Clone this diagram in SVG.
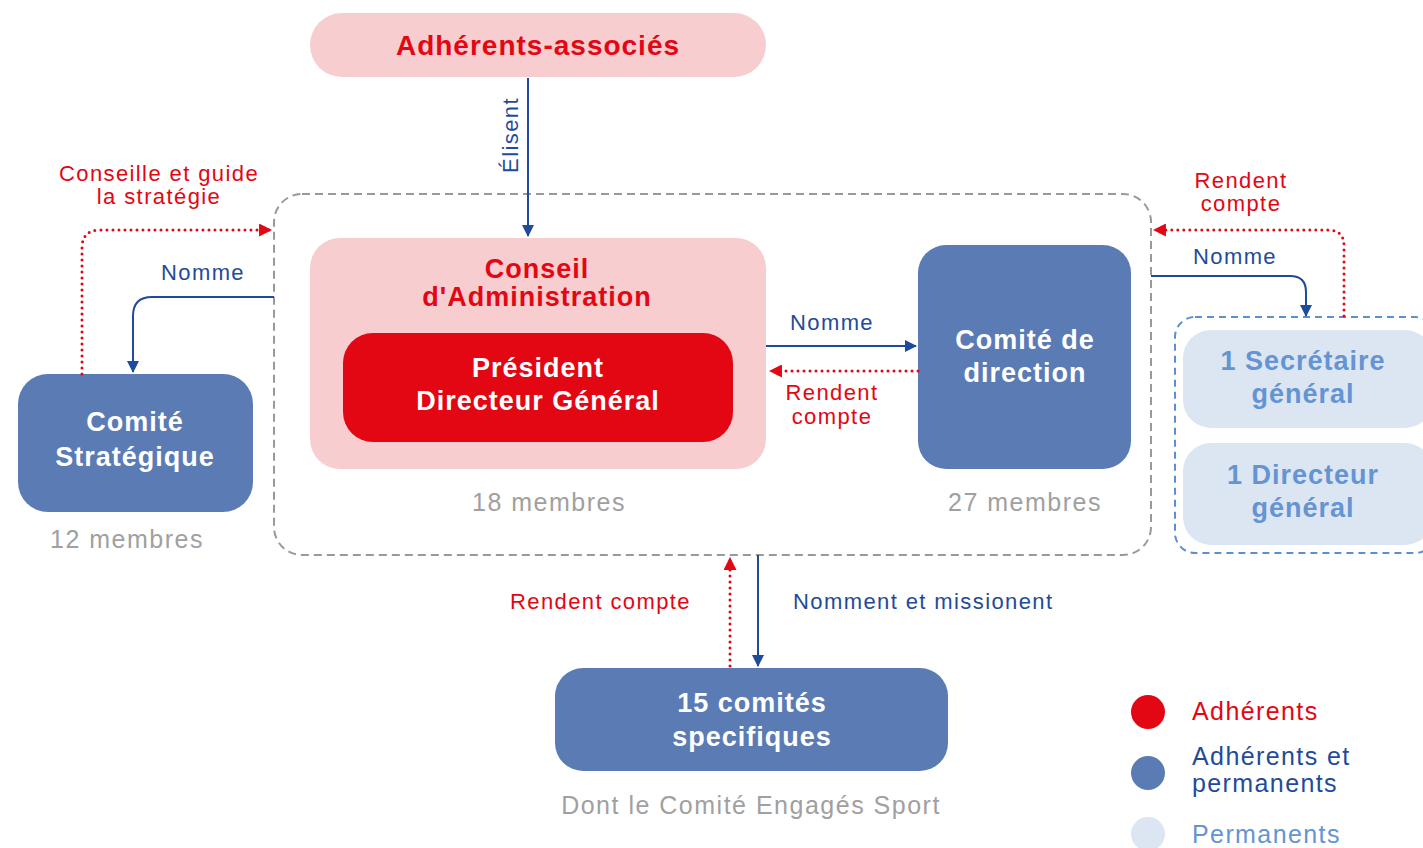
<svg xmlns="http://www.w3.org/2000/svg" width="1423" height="848" viewBox="0 0 1423 848">
<defs>
<style>
text{font-family:"Liberation Sans",Arial,sans-serif}
.b{font-weight:bold;letter-spacing:1px}
.t{text-anchor:middle}
.pinkbox{fill:#f7cdd0}
.redbox{fill:#e30613}
.bluebox{fill:#5b7bb5}
.lightbox{fill:#dce6f2}
.bl{stroke:#1f4b9a;stroke-width:2;fill:none}
.rd{stroke:#e30613;stroke-width:3;fill:none;stroke-dasharray:0 6;stroke-linecap:round}
.lblb{fill:#1f4b9a;font-size:22px;letter-spacing:1.4px}
.lblr{fill:#e30613;font-size:22px;letter-spacing:1.4px}
.gray{fill:#a0a0a0;font-size:25px;letter-spacing:1.5px}
.leg{font-size:25px;letter-spacing:1.4px}
</style>
<marker id="ab" viewBox="0 0 12 12" refX="11" refY="6" markerWidth="12" markerHeight="12" markerUnits="userSpaceOnUse" orient="auto"><path d="M0,0 L12,6 L0,12 z" fill="#1f4b9a"/></marker>
<marker id="ar" viewBox="0 0 12 12" refX="11" refY="6" markerWidth="13" markerHeight="13" markerUnits="userSpaceOnUse" orient="auto"><path d="M0,0 L12,6 L0,12 z" fill="#e30613"/></marker>
</defs>
<rect width="1423" height="848" fill="#ffffff"/>

<g id="frame">
<rect x="274" y="194" width="877" height="361" rx="28" fill="none" stroke="#999" stroke-width="2" stroke-dasharray="8 5"/>
</g>

<g id="adherents-associes">
<rect class="pinkbox" x="310" y="13" width="456" height="64" rx="32"/>
<text class="b t" x="538" y="55" font-size="28" fill="#e30613">Adhérents-associés</text>
</g>

<g id="conseil">
<rect class="pinkbox" x="310" y="238" width="456" height="231" rx="30"/>
<text class="b t" x="537" y="278" font-size="27" fill="#e30613">Conseil</text>
<text class="b t" x="537" y="306" font-size="27" fill="#e30613">d'Administration</text>
<text class="gray t" x="549" y="511">18 membres</text>
</g>

<g id="president">
<rect class="redbox" x="343" y="333" width="390" height="109" rx="30"/>
<text class="b t" x="538" y="377" font-size="27" fill="#fff">Président</text>
<text class="b t" x="538" y="410" font-size="27" fill="#fff">Directeur Général</text>
</g>

<g id="comite-direction">
<rect class="bluebox" x="918" y="245" width="213" height="224" rx="28"/>
<text class="b t" x="1025" y="349" font-size="27" fill="#fff">Comité de</text>
<text class="b t" x="1025" y="382" font-size="27" fill="#fff">direction</text>
<text class="gray t" x="1025" y="511">27 membres</text>
</g>

<g id="comite-strategique">
<rect class="bluebox" x="18" y="374" width="235" height="138" rx="30"/>
<text class="b t" x="135" y="431" font-size="27" fill="#fff">Comité</text>
<text class="b t" x="135" y="466" font-size="27" fill="#fff">Stratégique</text>
<text class="gray t" x="127" y="548">12 membres</text>
</g>

<g id="permanents-group">
<rect x="1175" y="317" width="260" height="236" rx="20" fill="none" stroke="#5b8fd0" stroke-width="2" stroke-dasharray="7 5"/>
</g>
<g id="secretaire">
<rect class="lightbox" x="1183" y="330" width="250" height="98" rx="28"/>
<text class="b t" x="1303" y="370" font-size="27" fill="#6494d2">1 Secrétaire</text>
<text class="b t" x="1303" y="403" font-size="27" fill="#6494d2">général</text>
</g>
<g id="directeur">
<rect class="lightbox" x="1183" y="443" width="250" height="102" rx="28"/>
<text class="b t" x="1303" y="484" font-size="27" fill="#6494d2">1 Directeur</text>
<text class="b t" x="1303" y="517" font-size="27" fill="#6494d2">général</text>
</g>

<g id="comites-specifiques">
<rect class="bluebox" x="555" y="668" width="393" height="103" rx="28"/>
<text class="b t" x="752" y="712" font-size="27" fill="#fff">15 comités</text>
<text class="b t" x="752" y="746" font-size="27" fill="#fff">specifiques</text>
<text class="gray t" x="751" y="814">Dont le Comité Engagés Sport</text>
</g>

<g id="connectors">
<path class="bl" d="M528,78 V236" marker-end="url(#ab)"/>
<path class="bl" d="M766,346 H916" marker-end="url(#ab)"/>
<path class="rd" d="M918,371 H770" marker-end="url(#ar)"/>
<path class="rd" d="M82,374 V248 Q82,230 100,230 H271" marker-end="url(#ar)"/>
<path class="bl" d="M274,297 H152 Q133,297 133,316 V372" marker-end="url(#ab)"/>
<path class="bl" d="M1151,276 H1290 Q1306,276 1306,292 V316" marker-end="url(#ab)"/>
<path class="rd" d="M1344,316 V246 Q1344,230 1328,230 H1154" marker-end="url(#ar)"/>
<path class="rd" d="M730,666 V558" marker-end="url(#ar)"/>
<path class="bl" d="M758,555 V666" marker-end="url(#ab)"/>
</g>

<g id="labels">
<text class="lblb t" transform="translate(518,135) rotate(-90)">Élisent</text>
<text class="lblb t" x="832" y="330">Nomme</text>
<text class="lblr t" x="832" y="400">Rendent</text>
<text class="lblr t" x="832" y="424">compte</text>
<text class="lblr t" x="159" y="181">Conseille et guide</text>
<text class="lblr t" x="159" y="204">la stratégie</text>
<text class="lblb t" x="203" y="280">Nomme</text>
<text class="lblb t" x="1235" y="264">Nomme</text>
<text class="lblr t" x="1241" y="188">Rendent</text>
<text class="lblr t" x="1241" y="211">compte</text>
<text class="lblr" x="691" y="609" text-anchor="end">Rendent compte</text>
<text class="lblb" x="793" y="609">Nomment et missionent</text>
</g>

<g id="legend">
<circle cx="1148" cy="712" r="17" fill="#e30613"/>
<circle cx="1148" cy="773" r="17" fill="#5b7bb5"/>
<circle cx="1148" cy="834" r="17" fill="#dce6f2"/>
<text class="leg" x="1192" y="720" fill="#e30613">Adhérents</text>
<text class="leg" x="1192" y="765" fill="#1f4b9a">Adhérents et</text>
<text class="leg" x="1192" y="792" fill="#1f4b9a">permanents</text>
<text class="leg" x="1192" y="843" fill="#6494d2">Permanents</text>
</g>
</svg>
